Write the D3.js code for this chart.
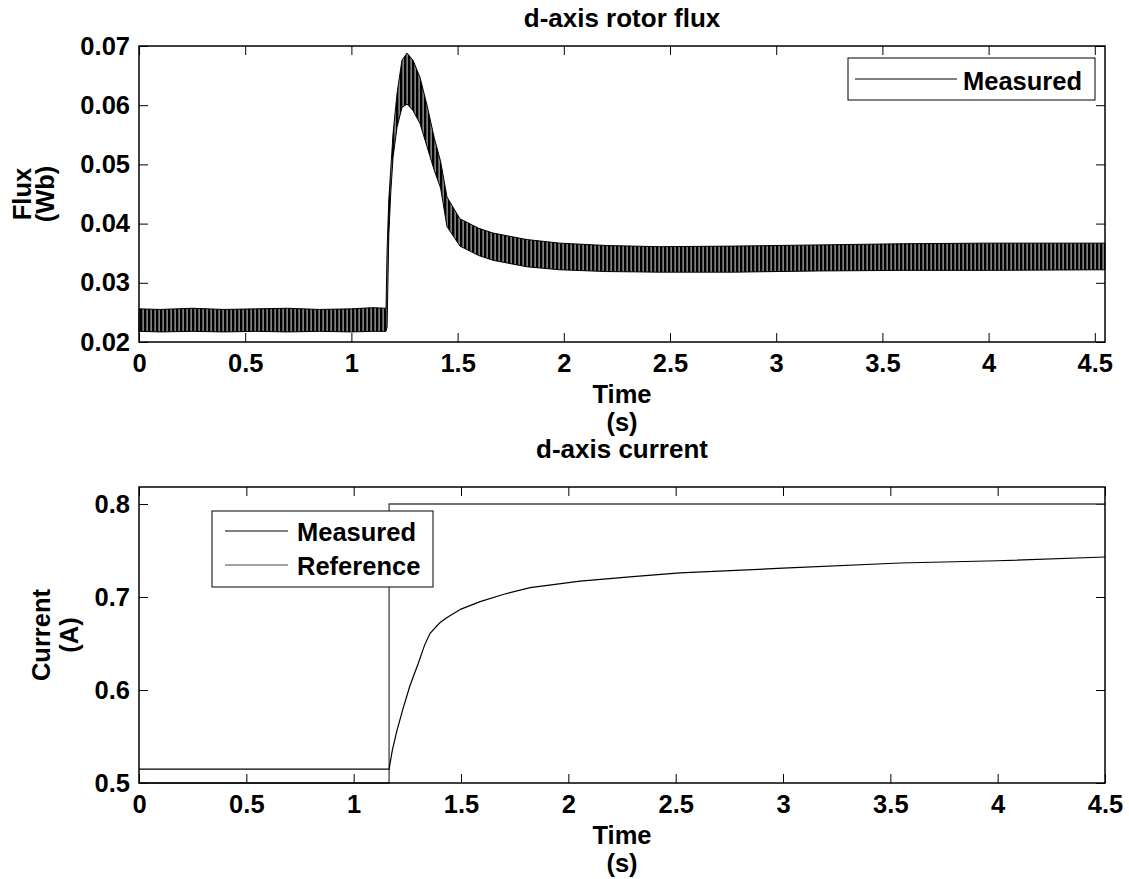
<!DOCTYPE html>
<html>
<head>
<meta charset="utf-8">
<script src="https://cdn.jsdelivr.net/npm/d3@7"></script>
<style>
  html, body { margin: 0; padding: 0; background: #fff; }
  svg text { font-family: "Liberation Sans", Arial, sans-serif; font-weight: bold; fill: #000; }
</style>
</head>
<body>
<svg id="chart" width="1129" height="879"></svg>
<script>
// ---------------- DATA ----------------
// Top panel: d-axis rotor flux (oscillating band: upper / lower envelope)
const fluxTime = [0, 0.1, 0.25, 0.4, 0.55, 0.7, 0.85, 1.0, 1.1, 1.163, 1.168, 1.176, 1.185, 1.196, 1.215, 1.238, 1.262, 1.29, 1.323, 1.356, 1.39, 1.42, 1.45, 1.511, 1.6, 1.667, 1.827, 1.982, 2.2, 2.45, 2.8, 3.2, 3.6, 4.0, 4.548];
const fluxHigh = [0.0256, 0.0255, 0.0257, 0.0255, 0.0256, 0.0257, 0.0255, 0.0256, 0.0258, 0.0257, 0.0355, 0.044, 0.049, 0.0552, 0.062, 0.0676, 0.0688, 0.0676, 0.0647, 0.0600, 0.0545, 0.0505, 0.0445, 0.0408, 0.0392, 0.0384, 0.0373, 0.0367, 0.0363, 0.0361, 0.0362, 0.0364, 0.0366, 0.0367, 0.0367];
const fluxLow  = [0.0218, 0.0217, 0.0218, 0.0217, 0.0218, 0.0217, 0.0218, 0.0217, 0.0218, 0.0218, 0.0225, 0.038, 0.045, 0.0512, 0.0563, 0.0596, 0.0602, 0.0591, 0.0569, 0.0530, 0.0490, 0.0460, 0.0395, 0.0362, 0.0346, 0.0338, 0.0327, 0.0322, 0.0319, 0.0318, 0.0318, 0.0320, 0.0321, 0.0321, 0.0322];

// Bottom panel: d-axis current
const curTime     = [0, 0.3, 0.6, 0.9, 1.165, 1.18, 1.2, 1.23, 1.26, 1.277, 1.3, 1.33, 1.356, 1.4, 1.435, 1.5, 1.589, 1.7, 1.822, 2.055, 2.3, 2.52, 3.0, 3.546, 4.0, 4.5];
const curMeasured = [0.515, 0.515, 0.515, 0.515, 0.515, 0.535, 0.555, 0.580, 0.603, 0.614, 0.628, 0.648, 0.661, 0.672, 0.678, 0.687, 0.695, 0.703, 0.710, 0.717, 0.722, 0.726, 0.731, 0.7366, 0.739, 0.743];
const refTime      = [0, 1.165, 1.165, 4.5];
const curReference = [0.5, 0.5, 0.8, 0.8];

// Ticks
const timeTicks = [0, 0.5, 1, 1.5, 2, 2.5, 3, 3.5, 4, 4.5];
const fluxTicks = [0.02, 0.03, 0.04, 0.05, 0.06, 0.07];
const curTicks  = [0.5, 0.6, 0.7, 0.8];

// ---------------- LAYOUT ----------------
const svg = d3.select("#chart");
const FS = 25.5;
const TFS = 26;
const L = 139, R = 1105;
const top1 = 46, bot1 = 342;
const top2 = 487, bot2 = 783;

const defs = svg.append("defs");
const pat = defs.append("pattern").attr("id", "stripes")
  .attr("patternUnits", "userSpaceOnUse").attr("width", 4).attr("height", 20);
pat.append("rect").attr("width", 4).attr("height", 20).attr("fill", "#808080");
pat.append("rect").attr("width", 2.3).attr("height", 20).attr("fill", "#000");

function drawFrame(x, y, yTicks, yFmt, yTop, yBot) {
  const g = svg.append("g");
  g.append("g").attr("transform", `translate(0,${yBot})`)
    .call(d3.axisBottom(x).tickValues(timeTicks).tickSizeInner(-9).tickSizeOuter(0).tickPadding(12).tickFormat(d3.format("")))
    .call(s => s.select(".domain").remove())
    .call(s => s.selectAll("text").attr("font-size", FS));
  g.append("g").attr("transform", `translate(0,${yTop})`)
    .call(d3.axisTop(x).tickValues(timeTicks).tickSizeInner(-9).tickSizeOuter(0).tickFormat(""))
    .call(s => s.select(".domain").remove());
  g.append("g").attr("transform", `translate(${L},0)`)
    .call(d3.axisLeft(y).tickValues(yTicks).tickSizeInner(-9).tickSizeOuter(0).tickPadding(9).tickFormat(d3.format(yFmt)))
    .call(s => s.select(".domain").remove())
    .call(s => s.selectAll("text").attr("font-size", FS));
  g.append("g").attr("transform", `translate(${R},0)`)
    .call(d3.axisRight(y).tickValues(yTicks).tickSizeInner(-9).tickSizeOuter(0).tickFormat(""))
    .call(s => s.select(".domain").remove());
  g.selectAll(".tick line").attr("stroke", "#000").attr("stroke-width", 1);
  g.selectAll(".tick text").attr("fill", "#000");
  return g;
}
function drawBox(yTop, yBot) {
  svg.append("rect").attr("x", L).attr("y", yTop).attr("width", R - L).attr("height", yBot - yTop)
    .attr("fill", "none").attr("stroke", "#000").attr("stroke-width", 1.5);
}

// ---------------- TOP PANEL ----------------
const x1 = d3.scaleLinear().domain([0, 4.548]).range([L, R]);
const y1 = d3.scaleLinear().domain([0.02, 0.07]).range([bot1, top1]);
drawFrame(x1, y1, fluxTicks, ".2f", top1, bot1);

const fluxRows = fluxTime.map((t, i) => ({ t, hi: fluxHigh[i], lo: fluxLow[i] }));
const fluxArea = d3.area().x(d => x1(d.t)).y0(d => y1(d.lo)).y1(d => y1(d.hi));
svg.append("path").datum(fluxRows).attr("d", fluxArea)
  .attr("fill", "url(#stripes)").attr("stroke", "#000").attr("stroke-width", 1);
drawBox(top1, bot1);

svg.append("text").attr("x", (L + R) / 2).attr("y", 27).attr("text-anchor", "middle")
  .attr("font-size", TFS).text("d-axis rotor flux");
svg.append("text").attr("x", (L + R) / 2).attr("y", 403).attr("text-anchor", "middle").attr("font-size", FS).text("Time");
svg.append("text").attr("x", (L + R) / 2).attr("y", 431).attr("text-anchor", "middle").attr("font-size", FS).text("(s)");
const yl1 = (top1 + bot1) / 2;
svg.append("text").attr("transform", `translate(31,${yl1}) rotate(-90)`).attr("text-anchor", "middle").attr("font-size", FS).text("Flux");
svg.append("text").attr("transform", `translate(54,${yl1}) rotate(-90)`).attr("text-anchor", "middle").attr("font-size", FS).text("(Wb)");

// legend top
const lg1 = svg.append("g");
lg1.append("rect").attr("x", 848).attr("y", 58).attr("width", 247).attr("height", 42)
  .attr("fill", "#fff").attr("stroke", "#000").attr("stroke-width", 1);
lg1.append("line").attr("x1", 855).attr("x2", 957).attr("y1", 79).attr("y2", 79).attr("stroke", "#000").attr("stroke-width", 1);
lg1.append("text").attr("x", 963).attr("y", 90).attr("font-size", FS).text("Measured");

// ---------------- BOTTOM PANEL ----------------
const x2 = d3.scaleLinear().domain([0, 4.5]).range([L, R]);
const y2 = d3.scaleLinear().domain([0.5, 0.8183]).range([bot2, top2]);
drawFrame(x2, y2, curTicks, ".1f", top2, bot2);

const line2 = d3.line().x(d => x2(d[0])).y(d => y2(d[1]));
svg.append("path").datum(refTime.map((t, i) => [t, curReference[i]])).attr("d", line2)
  .attr("fill", "none").attr("stroke", "#444").attr("stroke-width", 1.3);
svg.append("path").datum(curTime.map((t, i) => [t, curMeasured[i]])).attr("d", line2)
  .attr("fill", "none").attr("stroke", "#000").attr("stroke-width", 1.2);
drawBox(top2, bot2);

svg.append("text").attr("x", (L + R) / 2).attr("y", 458).attr("text-anchor", "middle")
  .attr("font-size", TFS).text("d-axis current");
svg.append("text").attr("x", (L + R) / 2).attr("y", 844).attr("text-anchor", "middle").attr("font-size", FS).text("Time");
svg.append("text").attr("x", (L + R) / 2).attr("y", 872).attr("text-anchor", "middle").attr("font-size", FS).text("(s)");
const yl2 = (top2 + bot2) / 2;
svg.append("text").attr("transform", `translate(50,${yl2}) rotate(-90)`).attr("text-anchor", "middle").attr("font-size", FS).text("Current");
svg.append("text").attr("transform", `translate(78,${yl2}) rotate(-90)`).attr("text-anchor", "middle").attr("font-size", FS).text("(A)");

// legend bottom
const lg2 = svg.append("g");
lg2.append("rect").attr("x", 212).attr("y", 511).attr("width", 221).attr("height", 76)
  .attr("fill", "#fff").attr("stroke", "#000").attr("stroke-width", 1);
const legItems = ["Measured", "Reference"];
legItems.forEach((name, i) => {
  const yy = 531 + i * 34;
  lg2.append("line").attr("x1", 225).attr("x2", 288).attr("y1", yy).attr("y2", yy)
    .attr("stroke", i === 0 ? "#000" : "#444").attr("stroke-width", 1);
  lg2.append("text").attr("x", 297).attr("y", yy + 10).attr("font-size", FS).text(name);
});
</script>
</body>
</html>
